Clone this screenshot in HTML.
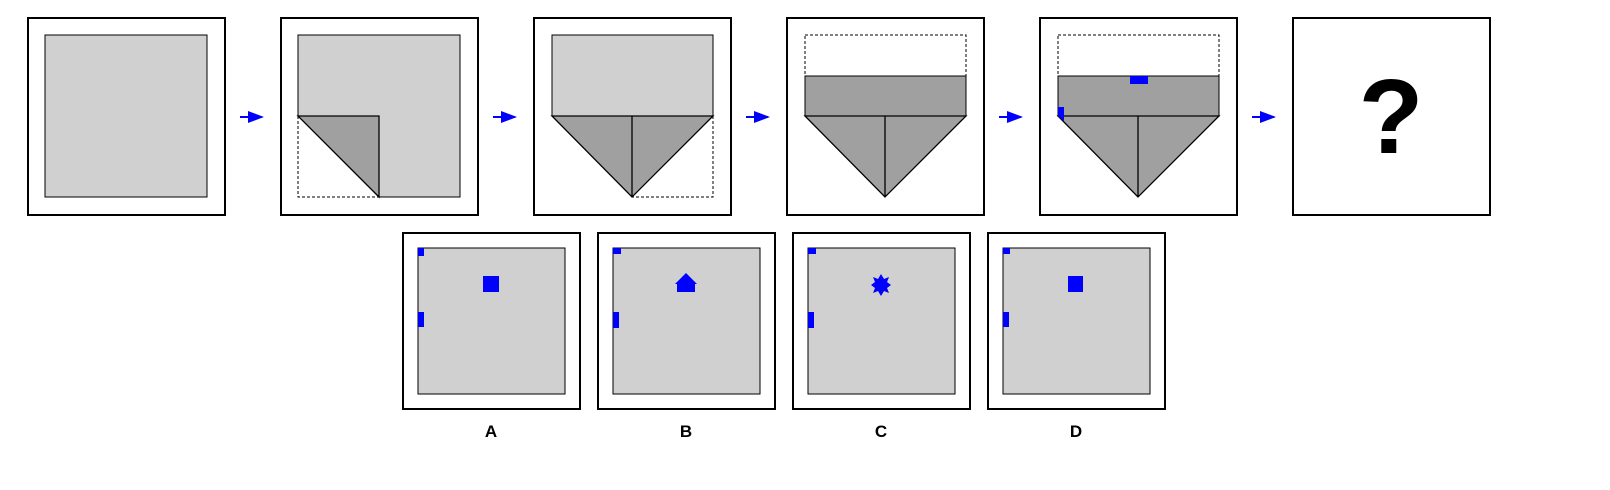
<!DOCTYPE html>
<html><head><meta charset="utf-8"><style>
html,body{margin:0;padding:0;background:#fff;width:1610px;height:490px;overflow:hidden}
svg{display:block}
text{font-family:"Liberation Sans",Arial,sans-serif;font-weight:bold}
</style></head><body>
<svg width="1610" height="490" viewBox="0 0 1610 490">
<defs>
<marker id="ah" markerWidth="8" markerHeight="8" refX="7" refY="4" orient="auto"><path d="M0,1 L8,4 L0,7 z" fill="#0000ff"/></marker>
</defs>
<g stroke="#000" stroke-width="2" fill="#fff">
<rect x="28" y="18" width="197" height="197"/>
<rect x="281" y="18" width="197" height="197"/>
<rect x="534" y="18" width="197" height="197"/>
<rect x="787" y="18" width="197" height="197"/>
<rect x="1040" y="18" width="197" height="197"/>
<rect x="1293" y="18" width="197" height="197"/>
</g>
<g stroke="#0000ff" stroke-width="2" marker-end="url(#ah)">
<line x1="240" y1="117" x2="262" y2="117"/>
<line x1="493" y1="117" x2="515" y2="117"/>
<line x1="746" y1="117" x2="768" y2="117"/>
<line x1="999" y1="117" x2="1021" y2="117"/>
<line x1="1252" y1="117" x2="1274" y2="117"/>
</g>
<!-- step 1 -->
<rect x="45" y="35" width="162" height="162" fill="#d0d0d0" stroke="#000" stroke-width="1"/>
<!-- step 2 -->
<path d="M298,35 H460 V197 H379 V116 H298 Z" fill="#d0d0d0" stroke="#000" stroke-width="1"/>
<path d="M298,116 V197 H379" fill="none" stroke="#000" stroke-dasharray="3,2" stroke-width="1"/>
<path d="M298,116 H379 V197 Z" fill="#a0a0a0" stroke="#000" stroke-width="1.3"/>
<!-- step 3 -->
<rect x="552" y="35" width="161" height="81" fill="#d0d0d0" stroke="#000" stroke-width="1"/>
<path d="M713,116 V197 H632" fill="none" stroke="#000" stroke-dasharray="3,2" stroke-width="1"/>
<path d="M552,116 H713 L632,197 Z M632,116 V197" fill="#a0a0a0" stroke="#000" stroke-width="1.3"/>
<!-- step 4 -->
<rect x="805" y="35" width="161" height="41" fill="none" stroke="#000" stroke-dasharray="3,2" stroke-width="1"/>
<rect x="805" y="76" width="161" height="40" fill="#a0a0a0" stroke="#000" stroke-width="1"/>
<path d="M805,116 H966 L885,197 Z M885,116 V197" fill="#a0a0a0" stroke="#000" stroke-width="1.3"/>
<!-- step 5 -->
<rect x="1058" y="35" width="161" height="41" fill="none" stroke="#000" stroke-dasharray="3,2" stroke-width="1"/>
<rect x="1058" y="76" width="161" height="40" fill="#a0a0a0" stroke="#000" stroke-width="1"/>
<path d="M1058,116 H1219 L1138,197 Z M1138,116 V197" fill="#a0a0a0" stroke="#000" stroke-width="1.3"/>
<rect x="1130" y="76" width="18" height="8" fill="#0000ff"/>
<path d="M1058,107 H1064 V121 L1058,116 Z" fill="#0000ff"/>
<!-- answer -->
<text x="1391" y="153" font-size="106" text-anchor="middle">?</text>
<!-- options -->
<g stroke="#000" stroke-width="2" fill="#fff">
<rect x="403" y="233" width="177" height="176"/>
<rect x="598" y="233" width="177" height="176"/>
<rect x="793" y="233" width="177" height="176"/>
<rect x="988" y="233" width="177" height="176"/>
</g>
<g fill="#d0d0d0" stroke="#000" stroke-width="1">
<rect x="418" y="248" width="147" height="146"/>
<rect x="613" y="248" width="147" height="146"/>
<rect x="808" y="248" width="147" height="146"/>
<rect x="1003" y="248" width="147" height="146"/>
</g>
<g fill="#0000ff">
<rect x="418" y="248" width="6" height="8"/>
<rect x="418" y="312" width="6" height="15"/>
<rect x="483" y="276" width="16" height="16"/>
<rect x="613" y="248" width="8" height="6"/>
<rect x="613" y="312" width="6" height="16"/>
<path d="M677,292 V284 H675 L686,273 L697,284 H695 V292 Z"/>
<rect x="808" y="248" width="8" height="6"/>
<rect x="808" y="312" width="6" height="16"/>
<path d="M881,274 L884,279 L889,277 L887,282 L891,285 L887,288 L889,293 L884,291 L881,296 L878,291 L873,293 L875,288 L871,285 L875,282 L873,277 L878,279 Z"/>
<rect x="1003" y="248" width="7" height="6"/>
<rect x="1003" y="312" width="6" height="15"/>
<rect x="1068" y="276" width="15" height="16"/>
</g>
<g font-size="17" text-anchor="middle" fill="#000">
<text x="491" y="437">A</text>
<text x="686" y="437">B</text>
<text x="881" y="437">C</text>
<text x="1076" y="437">D</text>
</g>
</svg>
</body></html>
